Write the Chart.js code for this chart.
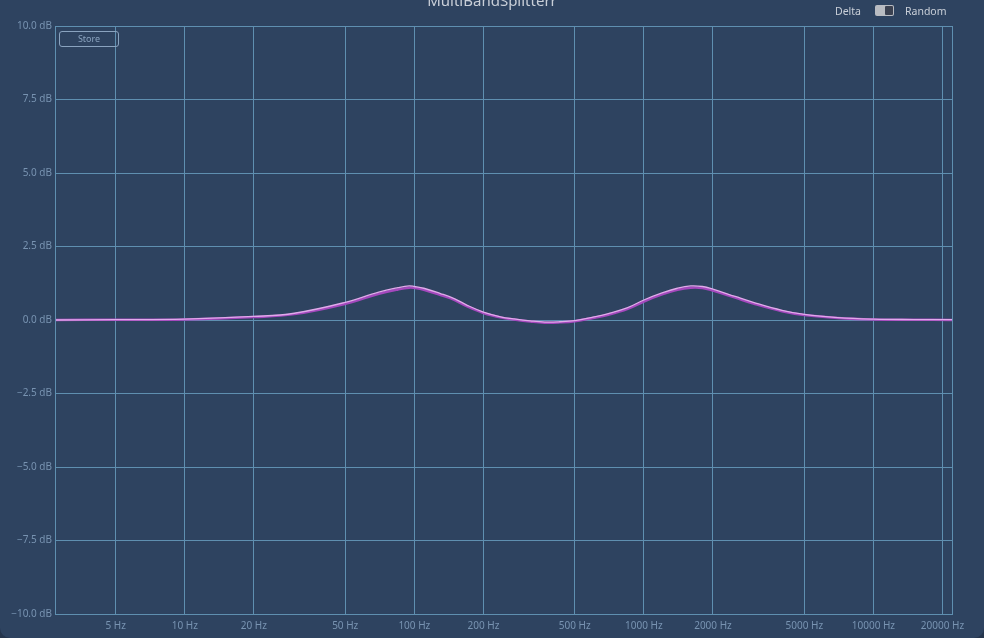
<!DOCTYPE html>
<html>
<head>
<meta charset="utf-8">
<script src="https://cdn.jsdelivr.net/npm/chart.js@4/dist/chart.umd.min.js"></script>
<style>
  html, body { margin: 0; padding: 0; background: #25354c; }
  #wrap { position: relative; width: 984px; height: 638px; background: #2e4360; border-radius: 0 0 10px 10px; overflow: hidden; font-family: "Noto Sans", sans-serif; }
  #title { position: absolute; left: 0; width: 984px; top: -10px; text-align: center; font-size: 15px; color: #c9cfd8; }
  .lbl { position: absolute; top: 4px; font-size: 10.5px; color: #c9cfd8; }
  #toggle { position: absolute; left: 875px; top: 5px; width: 19px; height: 11px; background: #b9bcc2; border-radius: 2px; }
  #toggle div { position: absolute; right: 1px; top: 1px; width: 8px; height: 9px; background: #3b4150; border-radius: 1px; }
  #store { position: absolute; left: 59px; top: 31px; width: 58px; height: 14px; border: 1px solid #8aa3bf; border-radius: 3px; color: #8aa3bf; font-size: 9px; text-align: center; line-height: 14px; }
</style>
</head>
<body>
<div id="wrap">
  <canvas id="myChart" width="984" height="638"></canvas>
  <div id="title">MultiBandSplitterr</div>
  <div class="lbl" style="left:835px">Delta</div>
  <div id="toggle"><div></div></div>
  <div class="lbl" style="left:905px">Random</div>
  <div id="store">Store</div>
</div>
<script>
// fréquences (Hz) et réponses (dB)
const frequences = [2.72, 5, 10, 20, 30, 50, 70, 85, 95, 100, 110, 130, 150, 170, 200, 240, 270, 320, 370, 430, 500, 600, 700, 850, 1000, 1200, 1400, 1600, 1800, 2000, 2500, 3000, 4000, 5000, 7000, 10000, 15000, 22000];
const reponseRose = [0.0, 0.01, 0.03, 0.12, 0.23, 0.6, 0.95, 1.1, 1.16, 1.14, 1.08, 0.9, 0.72, 0.5, 0.27, 0.1, 0.04, -0.03, -0.07, -0.06, -0.02, 0.1, 0.22, 0.42, 0.68, 0.92, 1.08, 1.16, 1.14, 1.05, 0.8, 0.6, 0.33, 0.19, 0.08, 0.03, 0.015, 0.01];
const reponseViolet = [0.0, 0.01, 0.02, 0.1, 0.2, 0.55, 0.89, 1.04, 1.1, 1.09, 1.03, 0.85, 0.68, 0.46, 0.24, 0.08, 0.02, -0.05, -0.09, -0.08, -0.04, 0.07, 0.18, 0.38, 0.63, 0.87, 1.03, 1.1, 1.09, 1.0, 0.76, 0.56, 0.3, 0.17, 0.07, 0.02, 0.01, 0.0];
const ticksHz = [5, 10, 20, 50, 100, 200, 500, 1000, 2000, 5000, 10000, 20000];
const ticksDb = [-10, -7.5, -5, -2.5, 0, 2.5, 5, 7.5, 10];

const grille = '#5f8fb0';
const texte = '#7893b1';

// cadre du graphique (bord droit notamment)
const cadre = {
    id: 'cadre',
    afterDraw(chart) {
        const a = chart.chartArea;
        const c = chart.ctx;
        c.save();
        c.strokeStyle = grille;
        c.lineWidth = 1;
        c.strokeRect(Math.round(a.left) + 0.5, Math.round(a.top) + 0.5, Math.round(a.right - a.left), Math.round(a.bottom - a.top));
        c.restore();
    }
};

const ctx = document.getElementById('myChart').getContext('2d');
const myChart = new Chart(ctx, {
    type: 'line',
    data: {
        datasets: [{
            data: frequences.map((f, i) => ({ x: f, y: reponseRose[i] })),
            borderColor: '#e0aaea',
            borderWidth: 1.3,
            pointRadius: 0,
            tension: 0.4
        }, {
            data: frequences.map((f, i) => ({ x: f, y: reponseViolet[i] })),
            borderColor: '#a448bd',
            borderWidth: 2.5,
            pointRadius: 0,
            tension: 0.4
        }]
    },
    options: {
        responsive: false,
        animation: false,
        layout: { padding: { top: 26, right: 32, left: 0, bottom: 0 } },
        plugins: { legend: { display: false }, tooltip: { enabled: false } },
        scales: {
            x: {
                type: 'logarithmic',
                min: 2.72,
                max: 22000,
                afterBuildTicks: s => { s.ticks = ticksHz.map(v => ({ value: v })); },
                afterFit: s => { s.height = 24; },
                grid: { color: grille, drawTicks: false },
                border: { color: grille },
                ticks: {
                    color: texte,
                    font: { family: 'Noto Sans', size: 10 },
                    padding: 6,
                    maxRotation: 0,
                    autoSkip: false,
                    callback: v => v + ' Hz'
                }
            },
            y: {
                min: -10,
                max: 10,
                afterBuildTicks: s => { s.ticks = ticksDb.map(v => ({ value: v })); },
                afterFit: s => { s.width = 55; },
                grid: { color: grille, drawTicks: false },
                border: { color: grille },
                ticks: {
                    color: texte,
                    font: { family: 'Noto Sans', size: 10 },
                    padding: 3,
                    callback: v => (v < 0 ? '\u2212' + (-v).toFixed(1) : v.toFixed(1)) + ' dB'
                }
            }
        }
    },
    plugins: [cadre]
});
</script>
</body>
</html>
